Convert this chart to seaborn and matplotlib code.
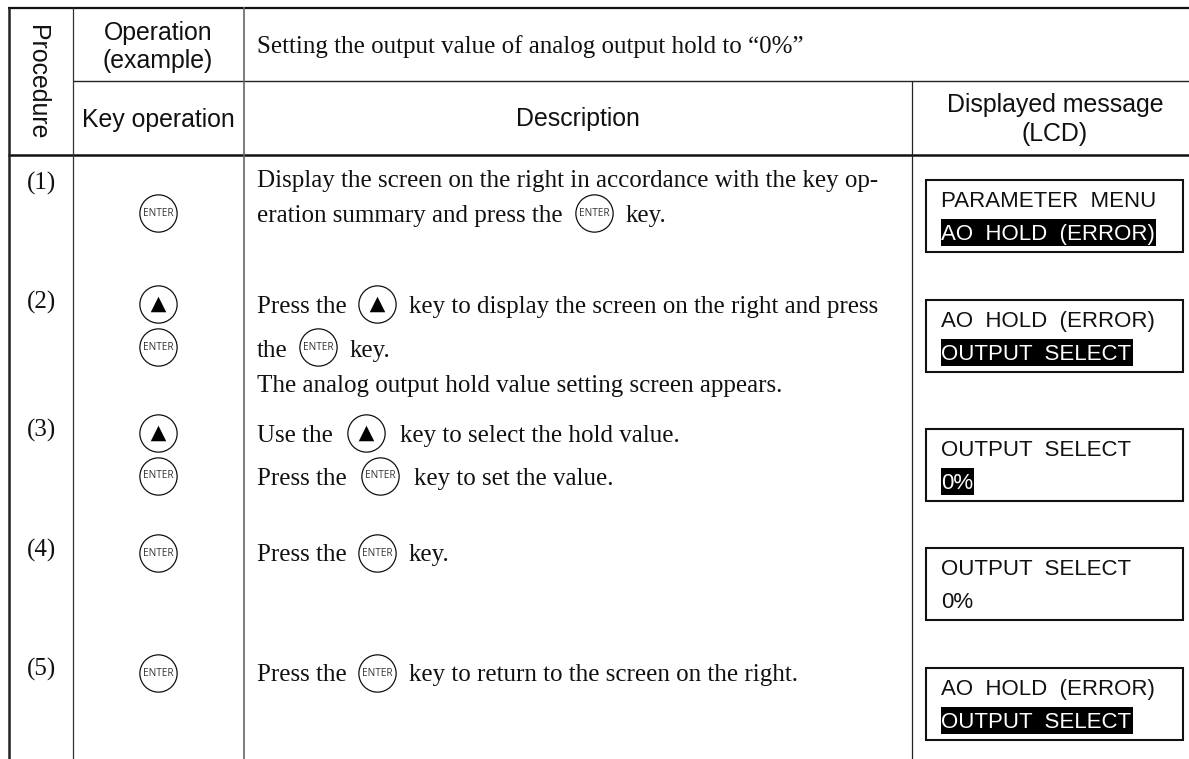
#!/usr/bin/env python3
"""Key operation table for setting the analog output hold value."""

import matplotlib

matplotlib.use("Agg")
import matplotlib.pyplot as plt
import pandas as pd
import seaborn as sns
from matplotlib.patches import Rectangle

SERIF = "Liberation Serif"
SANS = "Liberation Sans"

# step numbers
step_labels = ["(1)", "(2)", "(3)", "(4)", "(5)"]
step_y = [190, 309, 437, 557, 676]

# description text runs
desc_labels = [
    "Setting the output value of analog output hold to “0%”",
    "Display the screen on the right in accordance with the key op-",
    "eration summary and press the",
    "key.",
    "Press the",
    "key to display the screen on the right and press",
    "the",
    "key.",
    "The analog output hold value setting screen appears.",
    "Use the",
    "key to select the hold value.",
    "Press the",
    "key to set the value.",
    "Press the",
    "key.",
    "Press the",
    "key to return to the screen on the right.",
]
desc_x = [257, 257, 257, 626, 257, 409, 257, 350, 257, 257, 400, 257, 414, 257, 409, 257, 409]
desc_y = [53, 187, 222, 222, 313, 313, 357, 357, 392, 442, 442, 485, 485, 561, 561, 681, 681]

# key symbols, in the key column and inline in the description
key_x = [158, 158, 158, 158, 158, 158, 158, 594, 377, 318, 366, 380, 377, 377]
key_y = [213, 304, 347, 433, 476, 553, 673, 213, 304, 347, 433, 476, 553, 673]
key_kind = ["enter", "up", "enter", "up", "enter", "enter", "enter",
            "enter", "up", "enter", "up", "enter", "enter", "enter"]

# LCD screens
lcd_top = [180, 300, 429, 548, 668]
lcd_line1 = ["PARAMETER  MENU", "AO  HOLD  (ERROR)", "OUTPUT  SELECT", "OUTPUT  SELECT", "AO  HOLD  (ERROR)"]
lcd_line2 = ["AO  HOLD  (ERROR)", "OUTPUT  SELECT", "0%", "0%", "OUTPUT  SELECT"]
lcd_inverted = [True, True, True, False, True]
lcd_inverted_width = [215, 192, 33, 0, 192]


def draw_grid(ax):
    ax.hlines(7.5, 8, 1189, color="#111111", linewidth=1.6)
    ax.hlines(81, 73, 1189, color="#222222", linewidth=1.0)
    ax.hlines(154.5, 8, 1189, color="#111111", linewidth=1.8)
    ax.vlines(9, 7, 759, color="#222222", linewidth=1.8)
    ax.vlines(73, 7, 759, color="#333333", linewidth=0.9)
    ax.vlines(244, 7, 759, color="#666666", linewidth=1.2)
    ax.vlines(912, 81, 759, color="#222222", linewidth=0.9)


def draw_headers(ax):
    head = dict(family=SANS, fontsize=17.9, color="#111111", ha="center", va="center")
    ax.text(158, 33, "Operation", **head)
    ax.text(158, 61, "(example)", **head)
    ax.text(158, 120, "Key operation", **head)
    ax.text(578, 119, "Description", **head)
    ax.text(1055, 105, "Displayed message", **head)
    ax.text(1055, 134, "(LCD)", **head)
    ax.text(37, 82, "Procedure", rotation=-90, **head)


def draw_keys(ax):
    keys = pd.DataFrame({"x": key_x, "y": key_y, "kind": key_kind})
    sns.scatterplot(
        data=keys, x="x", y="y", s=720, marker="o", color="white",
        edgecolor="#111111", linewidth=0.9, legend=False, zorder=3, ax=ax,
    )
    sns.scatterplot(
        data=keys[keys["kind"] == "up"], x="x", y="y", s=125, marker="^",
        color="black", linewidth=0, legend=False, zorder=4, ax=ax,
    )
    for row in keys[keys["kind"] == "enter"].itertuples():
        ax.text(row.x, row.y, "ENTER", family="Open Sans", fontsize=7.2, color="#333333",
                ha="center", va="center", zorder=4)


def draw_lcds(ax):
    for top, first, second, inverted, width in zip(
        lcd_top, lcd_line1, lcd_line2, lcd_inverted, lcd_inverted_width
    ):
        ax.add_patch(Rectangle((926, top), 257, 72, fill=False, edgecolor="#111111", linewidth=1.5))
        text = dict(family=SANS, fontsize=16.0, ha="left", va="baseline", zorder=4)
        ax.text(941, top + 27, first, color="#111111", **text)
        if inverted:
            ax.add_patch(Rectangle((941, top + 39), width, 27, color="black", linewidth=0, zorder=3))
        ax.text(941, top + 60, second, color="white" if inverted else "#111111", **text)


def main():
    sns.set_theme(style="white")
    fig = plt.figure(figsize=(11.89, 7.59), dpi=100)
    ax = fig.add_axes([0, 0, 1, 1])

    draw_grid(ax)
    draw_headers(ax)

    for label, y in zip(step_labels, step_y):
        ax.text(41, y, label, family=SERIF, fontsize=18, color="#111111", ha="center", va="baseline")
    for label, x, y in zip(desc_labels, desc_x, desc_y):
        ax.text(x, y, label, family=SERIF, fontsize=18, color="#111111", ha="left", va="baseline")

    draw_keys(ax)
    draw_lcds(ax)

    ax.set_xlim(0, 1189)
    ax.set_ylim(759, 0)
    ax.axis("off")
    fig.savefig("out.png", dpi=100)
    plt.close(fig)


if __name__ == "__main__":
    main()
